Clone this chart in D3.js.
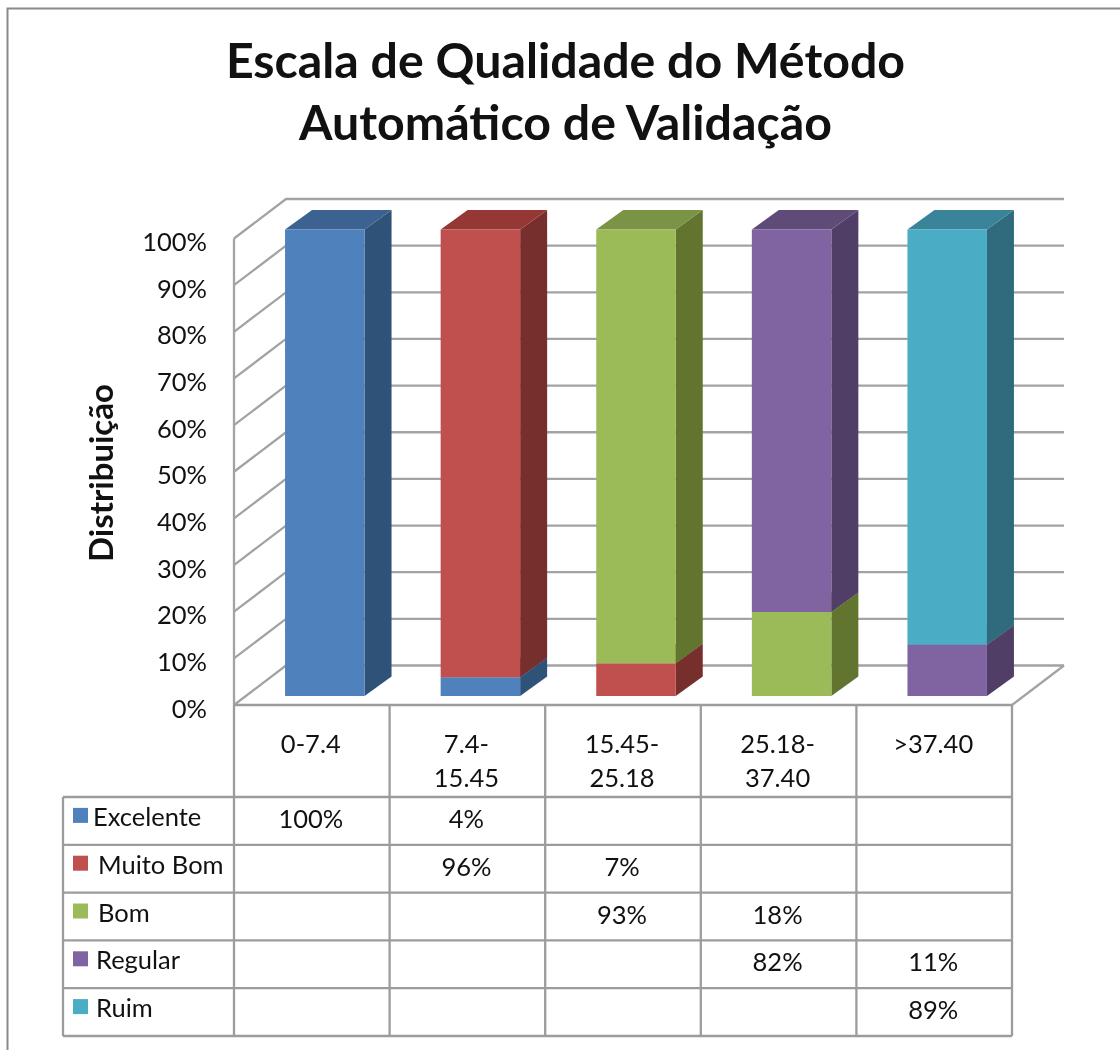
<!DOCTYPE html>
<html><head><meta charset="utf-8">
<script src="https://cdn.jsdelivr.net/npm/d3@7"></script>
<style>
html,body{margin:0;padding:0;background:#fff}
svg{display:block;filter:blur(0.7px)}
text{font-family:Lato,"Open Sans",sans-serif;fill:#111}
</style></head><body>
<svg id="c" width="1120" height="1050"></svg>
<script>
const categories = ["0-7.4","7.4-|15.45","15.45-|25.18","25.18-|37.40",">37.40"];
const seriesNames = ["Excelente","Muito Bom","Bom","Regular","Ruim"];
const excelente = [100,4,0,0,0];
const muitoBom  = [0,96,7,0,0];
const bom       = [0,0,93,18,0];
const regular   = [0,0,0,82,11];
const ruim      = [0,0,0,0,89];
const yTicks = [0,10,20,30,40,50,60,70,80,90,100];
const titleLines = ["Escala de Qualidade do Método","Automático de Validação"];
const frontColors = ["#4F81BD","#C0504D","#9BBB59","#8064A2","#4BACC6"];
const sideColors  = ["#2F5279","#772F2D","#62752F","#513E66","#2F6B7C"];
const topColors   = ["#3B6290","#953735","#7A9344","#5F4B78","#3A8499"];

const seriesValues = [excelente,muitoBom,bom,regular,ruim];
const rows = categories.map((c,i)=>{const o={cat:c};seriesNames.forEach((s,j)=>o[s]=seriesValues[j][i]);return o;});
const stacked = d3.stack().keys(seriesNames)(rows);

const svg = d3.select("#c");
const GRID="#a3a3a3", TABLE="#9c9c9c";
const FS=25.5;
// frame
svg.append("path").attr("d","M7.5,1050V8.5H1120").attr("fill","none").attr("stroke","#8a8a8a").attr("stroke-width",2);
// title
svg.selectAll("text.title").data(titleLines).join("text").attr("class","title")
  .attr("x",565.5).attr("y",(d,i)=>78+i*62).attr("text-anchor","middle")
  .attr("font-size",48.3).attr("font-weight",700).text(d=>d);

// scales
const wallX0=234, wallX1=1012, wallDx=52, wallDy=-39.5;
const y = d3.scaleLinear().domain([0,100]).range([705,238.5]);
const x = d3.scaleBand().domain(categories).range([wallX0,wallX1]).paddingInner(0).paddingOuter(0);
const barW=79.5, barDx=27, barDy=-19.5, barFrontShift=-9;

// walls and gridlines
const g = svg.append("g");
const gl = g.append("g").attr("fill","none").attr("stroke",GRID).attr("stroke-width",2.3);
yTicks.forEach(t=>{
  const a=y(t);
  gl.append("path").attr("d",`M${wallX0},${a}L${wallX0+wallDx},${a+wallDy}H${wallX1+wallDx}`);
});
gl.append("path").attr("d",`M${wallX0},${y(0)}V${y(100)}`);
gl.append("path").attr("d",`M${wallX1},${y(0)}L${wallX1+wallDx},${y(0)+wallDy}`);

// bars: draw bottom-up
const barG = g.append("g");
stacked.forEach((s,si)=>{
  s.forEach((d,ci)=>{
    if(d[1]-d[0]<=0) return;
    const cx=x(categories[ci])+x.bandwidth()/2;
    const left=cx-barW/2+13;
    const right=left+barW;
    const b=y(d[0])+barFrontShift, t=y(d[1])+barFrontShift;
    barG.append("path").attr("d",`M${right},${b}L${right+barDx},${b+barDy}V${t+barDy}L${right},${t}Z`).attr("fill",sideColors[si]);
    barG.append("path").attr("d",`M${left},${t}L${left+barDx},${t+barDy}H${right+barDx}L${right},${t}Z`).attr("fill",topColors[si]);
    barG.append("rect").attr("x",left).attr("y",t).attr("width",barW).attr("height",b-t).attr("fill",frontColors[si]);
  });
});

// y axis
const axis = d3.axisLeft(y).tickValues(yTicks).tickSize(0).tickPadding(0).tickFormat(d=>d+"%");
const ag = svg.append("g").attr("transform","translate(207,4)").call(axis);
ag.select(".domain").remove();
ag.selectAll("text").attr("font-size",FS).style("font-family","Lato,sans-serif").attr("fill","#111");

// y title
svg.append("text").attr("transform","translate(113,473) rotate(-90)").attr("text-anchor","middle")
  .attr("font-size",33).attr("font-weight",700).text("Distribuição");

// table
const rowY = d3.scaleBand().domain(seriesNames).range([797,1036]);
const t = svg.append("g").attr("fill","none").attr("stroke",TABLE).attr("stroke-width",2.3);
const colEdges=[...categories.map(c=>x(c)),wallX1];
t.append("path").attr("d",`M${wallX0},${y(0)}H${wallX1}`);
colEdges.forEach(e=>t.append("path").attr("d",`M${e},${y(0)}V${rowY.range()[1]}`));
t.append("path").attr("d",`M63,797V1036`);
[...seriesNames.map(s=>rowY(s)),rowY.range()[1]].forEach(v=>t.append("path").attr("d",`M63,${v}H${wallX1}`));

// category labels
categories.forEach(c=>{
  const cx=x(c)+x.bandwidth()/2-1;
  c.split("|").forEach((line,i)=>{
    svg.append("text").attr("x",cx).attr("y",752.5+i*34.5).attr("text-anchor","middle").attr("font-size",FS).text(line);
  });
});
// legend cells + values
const legendTextX=[93,98,98,96,96];
seriesNames.forEach((s,si)=>{
  const ry=rowY(s), cy=ry+rowY.bandwidth()/2;
  svg.append("rect").attr("x",73).attr("y",cy-13).attr("width",15).attr("height",15).attr("fill",frontColors[si]);
  svg.append("text").attr("x",legendTextX[si]).attr("y",cy+5).attr("font-size",FS).text(s);
  categories.forEach((c,ci)=>{
    const v=seriesValues[si][ci];
    if(v>0) svg.append("text").attr("x",x(c)+x.bandwidth()/2-1).attr("y",cy+7).attr("text-anchor","middle").attr("font-size",FS).text(v+"%");
  });
});
</script></body></html>
